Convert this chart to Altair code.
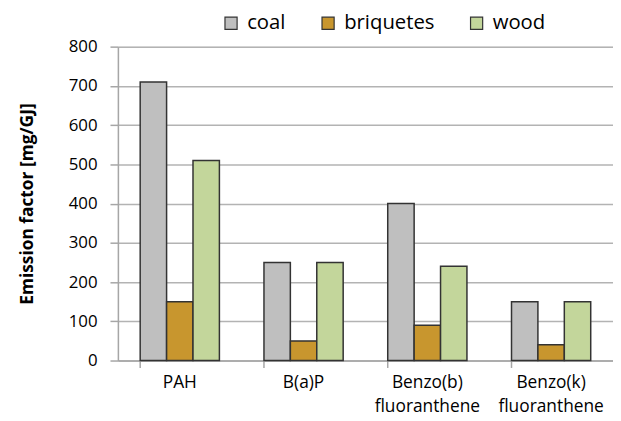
import altair as alt
import pandas as pd

categories = ["PAH", "B(a)P", "Benzo(b) fluoranthene", "Benzo(k) fluoranthene"]
fuels = ["coal", "briquetes", "wood"]
coal = [710, 250, 400, 150]
briquetes = [150, 50, 90, 40]
wood = [510, 250, 240, 150]
colors = ["#bfbfbf", "#c8962e", "#c3d69b"]

rows = []
for i, c in enumerate(categories):
    rows.append({"category": c, "fuel": "coal", "value": coal[i]})
    rows.append({"category": c, "fuel": "briquetes", "value": briquetes[i]})
    rows.append({"category": c, "fuel": "wood", "value": wood[i]})
df = pd.DataFrame(rows)

FONT = "Open Sans"

chart = alt.Chart(df).mark_bar(stroke="#333333", strokeWidth=1.5).encode(
    x=alt.X("category:N", sort=categories, title=None,
            scale=alt.Scale(paddingInner=0.36, paddingOuter=0.18),
            axis=alt.Axis(labelAngle=0, labelFont=FONT, labelFontSize=17.5, labelColor="#000000",
                          labelExpr="split(datum.label, ' ')", labelLineHeight=24,
                          labelPadding=6, tickSize=7, bandPosition=0,
                          domainColor="#a6a6a6", tickColor="#a6a6a6", domainWidth=1.5, tickWidth=1.5,
                          grid=False)),
    xOffset=alt.XOffset("fuel:N", sort=fuels),
    y=alt.Y("value:Q", title="Emission factor [mg/GJ]",
            scale=alt.Scale(domain=[0, 800], nice=False),
            axis=alt.Axis(values=[0, 100, 200, 300, 400, 500, 600, 700, 800],
                          labelFont=FONT, labelFontSize=17, labelColor="#000000",
                          labelPadding=13, tickSize=8,
                          titleFont=FONT, titleFontSize=17.5, titleFontWeight="bold",
                          titleColor="#000000", titlePadding=32,
                          domainColor="#a6a6a6", tickColor="#a6a6a6", domainWidth=1.5, tickWidth=1.5,
                          gridColor="#b3b3b3", gridWidth=1.5)),
    color=alt.Color("fuel:N", sort=fuels,
                    scale=alt.Scale(domain=fuels, range=colors),
                    legend=alt.Legend(title=None, orient="none", direction="horizontal",
                                      legendX=104, legendY=-34,
                                      symbolType="square", symbolSize=150,
                                      symbolStrokeColor="#333333", symbolStrokeWidth=1.2,
                                      labelFont=FONT, labelFontSize=20.5, labelColor="#000000",
                                      labelOffset=6, columnPadding=32)),
).properties(
    width=500, height=317,
    autosize=alt.AutoSizeParams(type="none"),
    padding={"left": 111, "top": 37, "right": 0, "bottom": 55},
).configure_view(stroke=None).configure(background="white")

chart.save("out.html", embed_options={"renderer": "svg", "actions": False})
